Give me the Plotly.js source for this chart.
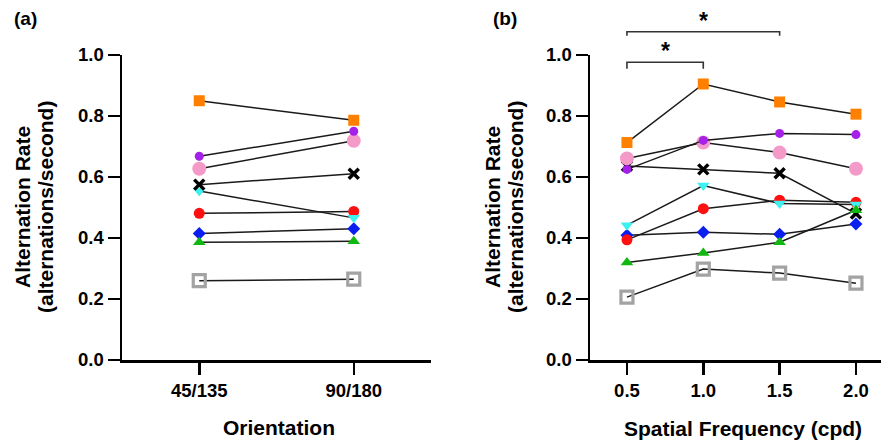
<!DOCTYPE html>
<html><head><meta charset="utf-8">
<script src="https://cdn.plot.ly/plotly-3.0.1.min.js"></script>
<style>html,body{margin:0;padding:0;background:#fff}#chart{width:883px;height:441px}</style>
</head><body><div id="chart"></div>
<script>
// ---------- data ----------
const orientationCats = ['45/135', '90/180'];
const frequencies = [0.5, 1.0, 1.5, 2.0];
const yTickVals = [0.0, 0.2, 0.4, 0.6, 0.8, 1.0];

// Panel (a): alternation rate by orientation, one array per observer
const oriGray   = [0.260, 0.265];
const oriBlue   = [0.415, 0.430];
const oriRed    = [0.481, 0.487];
const oriCyan   = [0.554, 0.466];
const oriBlack  = [0.575, 0.611];
const oriGreen  = [0.386, 0.389];
const oriPink   = [0.627, 0.719];
const oriPurple = [0.668, 0.750];
const oriOrange = [0.850, 0.786];

// Panel (b): alternation rate by spatial frequency, one array per observer
const sfGray   = [0.206, 0.298, 0.285, 0.252];
const sfBlue   = [0.409, 0.419, 0.412, 0.446];
const sfRed    = [0.394, 0.496, 0.524, 0.517];
const sfCyan   = [0.442, 0.572, 0.513, 0.510];
const sfBlack  = [0.636, 0.625, 0.612, 0.480];
const sfGreen  = [0.320, 0.351, 0.386, 0.491];
const sfPink   = [0.661, 0.713, 0.680, 0.627];
const sfPurple = [0.625, 0.720, 0.743, 0.739];
const sfOrange = [0.713, 0.905, 0.846, 0.806];

// significance comparisons (spatial frequency pairs) and bracket heights
const sigPairs  = [[0.5, 1.0], [0.5, 1.5]];
const sigLevels = [0.976, 1.076];
const sigLabels = ['*', '*'];

// ---------- styles ----------
const W = 883, H = 441;
const FONT = 'Liberation Sans, Arial, Helvetica, sans-serif';
const observers = [
  {a: oriGray,   b: sfGray,   m: {symbol: 'square-open', size: 12, color: '#a3a3a3', line: {color: '#a3a3a3', width: 3.2}}},
  {a: oriBlue,   b: sfBlue,   m: {symbol: 'diamond', size: 10, color: '#0a1ef0', line: {width: 0}}},
  {a: oriRed,    b: sfRed,    m: {symbol: 'circle', size: 11, color: '#ff1010', line: {width: 0}}},
  {a: oriCyan,   b: sfCyan,   m: {symbol: 'triangle-down', size: 11, color: '#3ef0f0', line: {width: 0}}},
  {a: oriBlack,  b: sfBlack,  m: {symbol: 'x-thin-open', size: 10, color: '#000000', line: {color: '#000000', width: 3.5}}},
  {a: oriGreen,  b: sfGreen,  m: {symbol: 'triangle-up', size: 11, color: '#12b812', line: {width: 0}}},
  {a: oriPink,   b: sfPink,   m: {symbol: 'circle', size: 14, color: '#f49ac8', line: {width: 0}}},
  {a: oriPurple, b: sfPurple, m: {symbol: 'circle', size: 9, color: '#a520e8', line: {width: 0}}},
  {a: oriOrange, b: sfOrange, m: {symbol: 'square', size: 11, color: '#ff8000', line: {width: 0}}}
];
const lineStyle = {color: '#1a1a1a', width: 1.5};

const traces = [];
observers.forEach(o => {
  traces.push({x: orientationCats, y: o.a, xaxis: 'x', yaxis: 'y', type: 'scatter', mode: 'lines+markers',
    line: lineStyle, marker: o.m, cliponaxis: false, showlegend: false, hoverinfo: 'skip'});
  traces.push({x: frequencies, y: o.b, xaxis: 'x2', yaxis: 'y2', type: 'scatter', mode: 'lines+markers',
    line: lineStyle, marker: o.m, cliponaxis: false, showlegend: false, hoverinfo: 'skip'});
});

// geometry (pixels -> paper)
const yDom = [(H - 360) / H, (H - 55) / H];
const xDomA = [122 / W, 431 / W];
const xDomB = [590 / W, 881 / W];
const yRange = [0, 1.0];
const xRangeA = [-0.5, 1.5];
const xRangeB = [0.258, 2.164];
const px = v => v / W;
const py = v => 1 - v / H;
const yToPaper = v => yDom[0] + (v - yRange[0]) / (yRange[1] - yRange[0]) * (yDom[1] - yDom[0]);
const x2ToPaper = v => xDomB[0] + (v - xRangeB[0]) / (xRangeB[1] - xRangeB[0]) * (xDomB[1] - xDomB[0]);

const tickFont = {family: FONT, size: 18.5, color: '#000', weight: 'bold'};
const titleFont = {family: FONT, size: 21, color: '#000', weight: 'bold'};

const yAxisCommon = {
  range: yRange, tickvals: yTickVals, tickformat: '.1f', showgrid: false, zeroline: false,
  showline: true, linecolor: '#000', linewidth: 2.5, ticks: 'outside', ticklen: 12, tickwidth: 2.5,
  tickcolor: '#000', tickfont: tickFont, fixedrange: true, automargin: false
};
const xAxisCommon = {
  showgrid: false, zeroline: false, showline: true, linecolor: '#000', linewidth: 2.5,
  ticks: 'outside', ticklen: 12, tickwidth: 2.5, tickcolor: '#000', tickfont: tickFont,
  fixedrange: true, automargin: false
};

const layout = {
  width: W, height: H, margin: {l: 0, r: 0, t: 0, b: 0},
  paper_bgcolor: '#fff', plot_bgcolor: 'rgba(0,0,0,0)', showlegend: false,
  font: {family: FONT, color: '#000'},
  xaxis: Object.assign({}, xAxisCommon, {domain: xDomA, anchor: 'y', type: 'category', range: xRangeA}),
  yaxis: Object.assign({}, yAxisCommon, {domain: yDom, anchor: 'x'}),
  xaxis2: Object.assign({}, xAxisCommon, {domain: xDomB, anchor: 'y2', range: xRangeB,
    tickvals: frequencies, tickformat: '.1f'}),
  yaxis2: Object.assign({}, yAxisCommon, {domain: yDom, anchor: 'x2'}),
  shapes: [],
  annotations: []
};

// significance brackets
sigPairs.forEach((p, i) => {
  const lvl = sigLevels[i];
  const drop = i === 0 ? 0.021 : 0.013;
  layout.shapes.push({type: 'path', xref: 'paper', yref: 'paper',
    path: `M ${x2ToPaper(p[0])},${yToPaper(lvl - drop)} L ${x2ToPaper(p[0])},${yToPaper(lvl)} L ${x2ToPaper(p[1])},${yToPaper(lvl)} L ${x2ToPaper(p[1])},${yToPaper(lvl - drop)}`,
    line: {color: '#333', width: 1.6}});
  layout.annotations.push({xref: 'paper', yref: 'paper', x: x2ToPaper((p[0] + p[1]) / 2), y: yToPaper(lvl + 0.037),
    text: sigLabels[i], showarrow: false, xanchor: 'center', yanchor: 'middle',
    font: {family: FONT, size: 23, color: '#000', weight: 'bold'}});
});

const ann = (x, y, text, font, extra) => layout.annotations.push(Object.assign({
  xref: 'paper', yref: 'paper', x: px(x), y: py(y), text: text, showarrow: false,
  xanchor: 'center', yanchor: 'middle', font: font}, extra || {}));

// panel labels
ann(25, 19, '(a)', {family: FONT, size: 19, color: '#000', weight: 'bold'});
ann(505, 19, '(b)', {family: FONT, size: 19, color: '#000', weight: 'bold'});
// y titles
ann(22, 207, 'Alternation Rate', titleFont, {textangle: -90});
ann(45, 207, '(alternations/second)', titleFont, {textangle: -90});
ann(492, 207, 'Alternation Rate', titleFont, {textangle: -90});
ann(515, 207, '(alternations/second)', titleFont, {textangle: -90});
// x titles
ann(279, 427, 'Orientation', titleFont);
ann(743, 428, 'Spatial Frequency (cpd)', titleFont);

Plotly.newPlot('chart', traces, layout, {staticPlot: true, displayModeBar: false});
</script>
</body></html>
